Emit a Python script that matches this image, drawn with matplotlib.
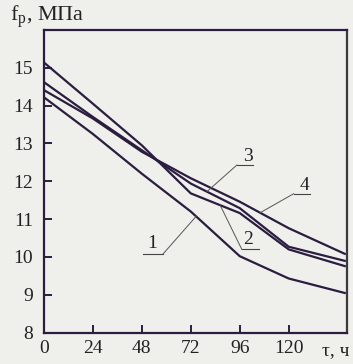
import numpy as np
import matplotlib
matplotlib.use('Agg')
import matplotlib.pyplot as plt

# Data (tau in hours, f_p in MPa)
tau = [0, 24, 48, 72, 96, 120, 148]
line_1 = [14.22, 13.25, 12.20, 11.20, 10.02, 9.43, 9.04]
line_2 = [15.14, 14.05, 12.95, 11.68, 11.16, 10.20, 9.75]
line_3 = [14.62, 13.70, 12.82, 11.94, 11.29, 10.27, 9.89]
line_4 = [14.41, 13.66, 12.78, 12.08, 11.46, 10.76, 10.07]
curve_names = ['1', '2', '3', '4']

x_ticks = [0, 24, 48, 72, 96, 120]
y_ticks = [8, 9, 10, 11, 12, 13, 14, 15]

# label position (tau, value), underline span, where the leader hits the curve
label_pos = {'1': (52.9, 10.36), '2': (100.0, 10.45), '3': (99.9, 12.65), '4': (127.6, 11.88)}
underline = {'1': (48.6, 58.4, 10.08), '2': (97.0, 105.2, 10.20),
             '3': (94.6, 102.7, 12.43), '4': (122.4, 130.6, 11.67)}
leader_start = {'1': 58.4, '2': 97.0, '3': 94.6, '4': 122.4}
leader_hit = {'1': 74.6, '2': 86.4, '3': 79.9, '4': 106.0}

plt.rcParams['font.family'] = ['Liberation Serif', 'DejaVu Serif']
plt.rcParams['mathtext.fontset'] = 'custom'
plt.rcParams['mathtext.rm'] = 'Liberation Serif'

bg = '#efefeb'
ink = '#2b1d3f'

fig = plt.figure(figsize=(3.53, 3.64), dpi=100, facecolor=bg)
ax = fig.add_axes([0.1246, 0.0863, 0.983 - 0.1246, 0.9176 - 0.0863], facecolor=bg)

curves = {'1': line_1, '2': line_2, '3': line_3, '4': line_4}
for name in curve_names:
    ax.plot(tau, curves[name], color=ink, lw=1.6, solid_capstyle='butt')

# curve numbers with underline and thin leader line
for name in curve_names:
    tx, ty = label_pos[name]
    ax.text(tx, ty, name, fontsize=14, color='#222222', ha='center', va='center')
    x0, x1, yu = underline[name]
    ax.plot([x0, x1], [yu, yu], color='#444444', lw=0.8)
    xh = leader_hit[name]
    yh = np.interp(xh, tau, curves[name])
    ax.plot([leader_start[name], xh], [yu, yh], color='#555555', lw=0.7)

ax.set_xlim(0, 148.6)
ax.set_ylim(8, 16)
ax.set_xticks(x_ticks)
ax.set_yticks(y_ticks)
ax.tick_params(direction='in', length=6, width=1.4, color=ink, labelsize=14,
               labelcolor='#222222')
ax.tick_params(axis='y', pad=8)
ax.tick_params(axis='x', pad=5)
for side in ['left', 'bottom', 'top', 'right']:
    ax.spines[side].set_color(ink)
    ax.spines[side].set_linewidth(1.6)
ax.spines['right'].set_color('#3a3a3a')

fig.text(0.028, 0.953, r'f$_\mathregular{р}$, МПа', fontsize=16, color='#222222',
         ha='left', va='center')
fig.text(0.912, 0.038, 'τ, ч', fontsize=14, color='#222222', ha='left', va='center')

fig.savefig('out.png', dpi=100, facecolor=bg)
